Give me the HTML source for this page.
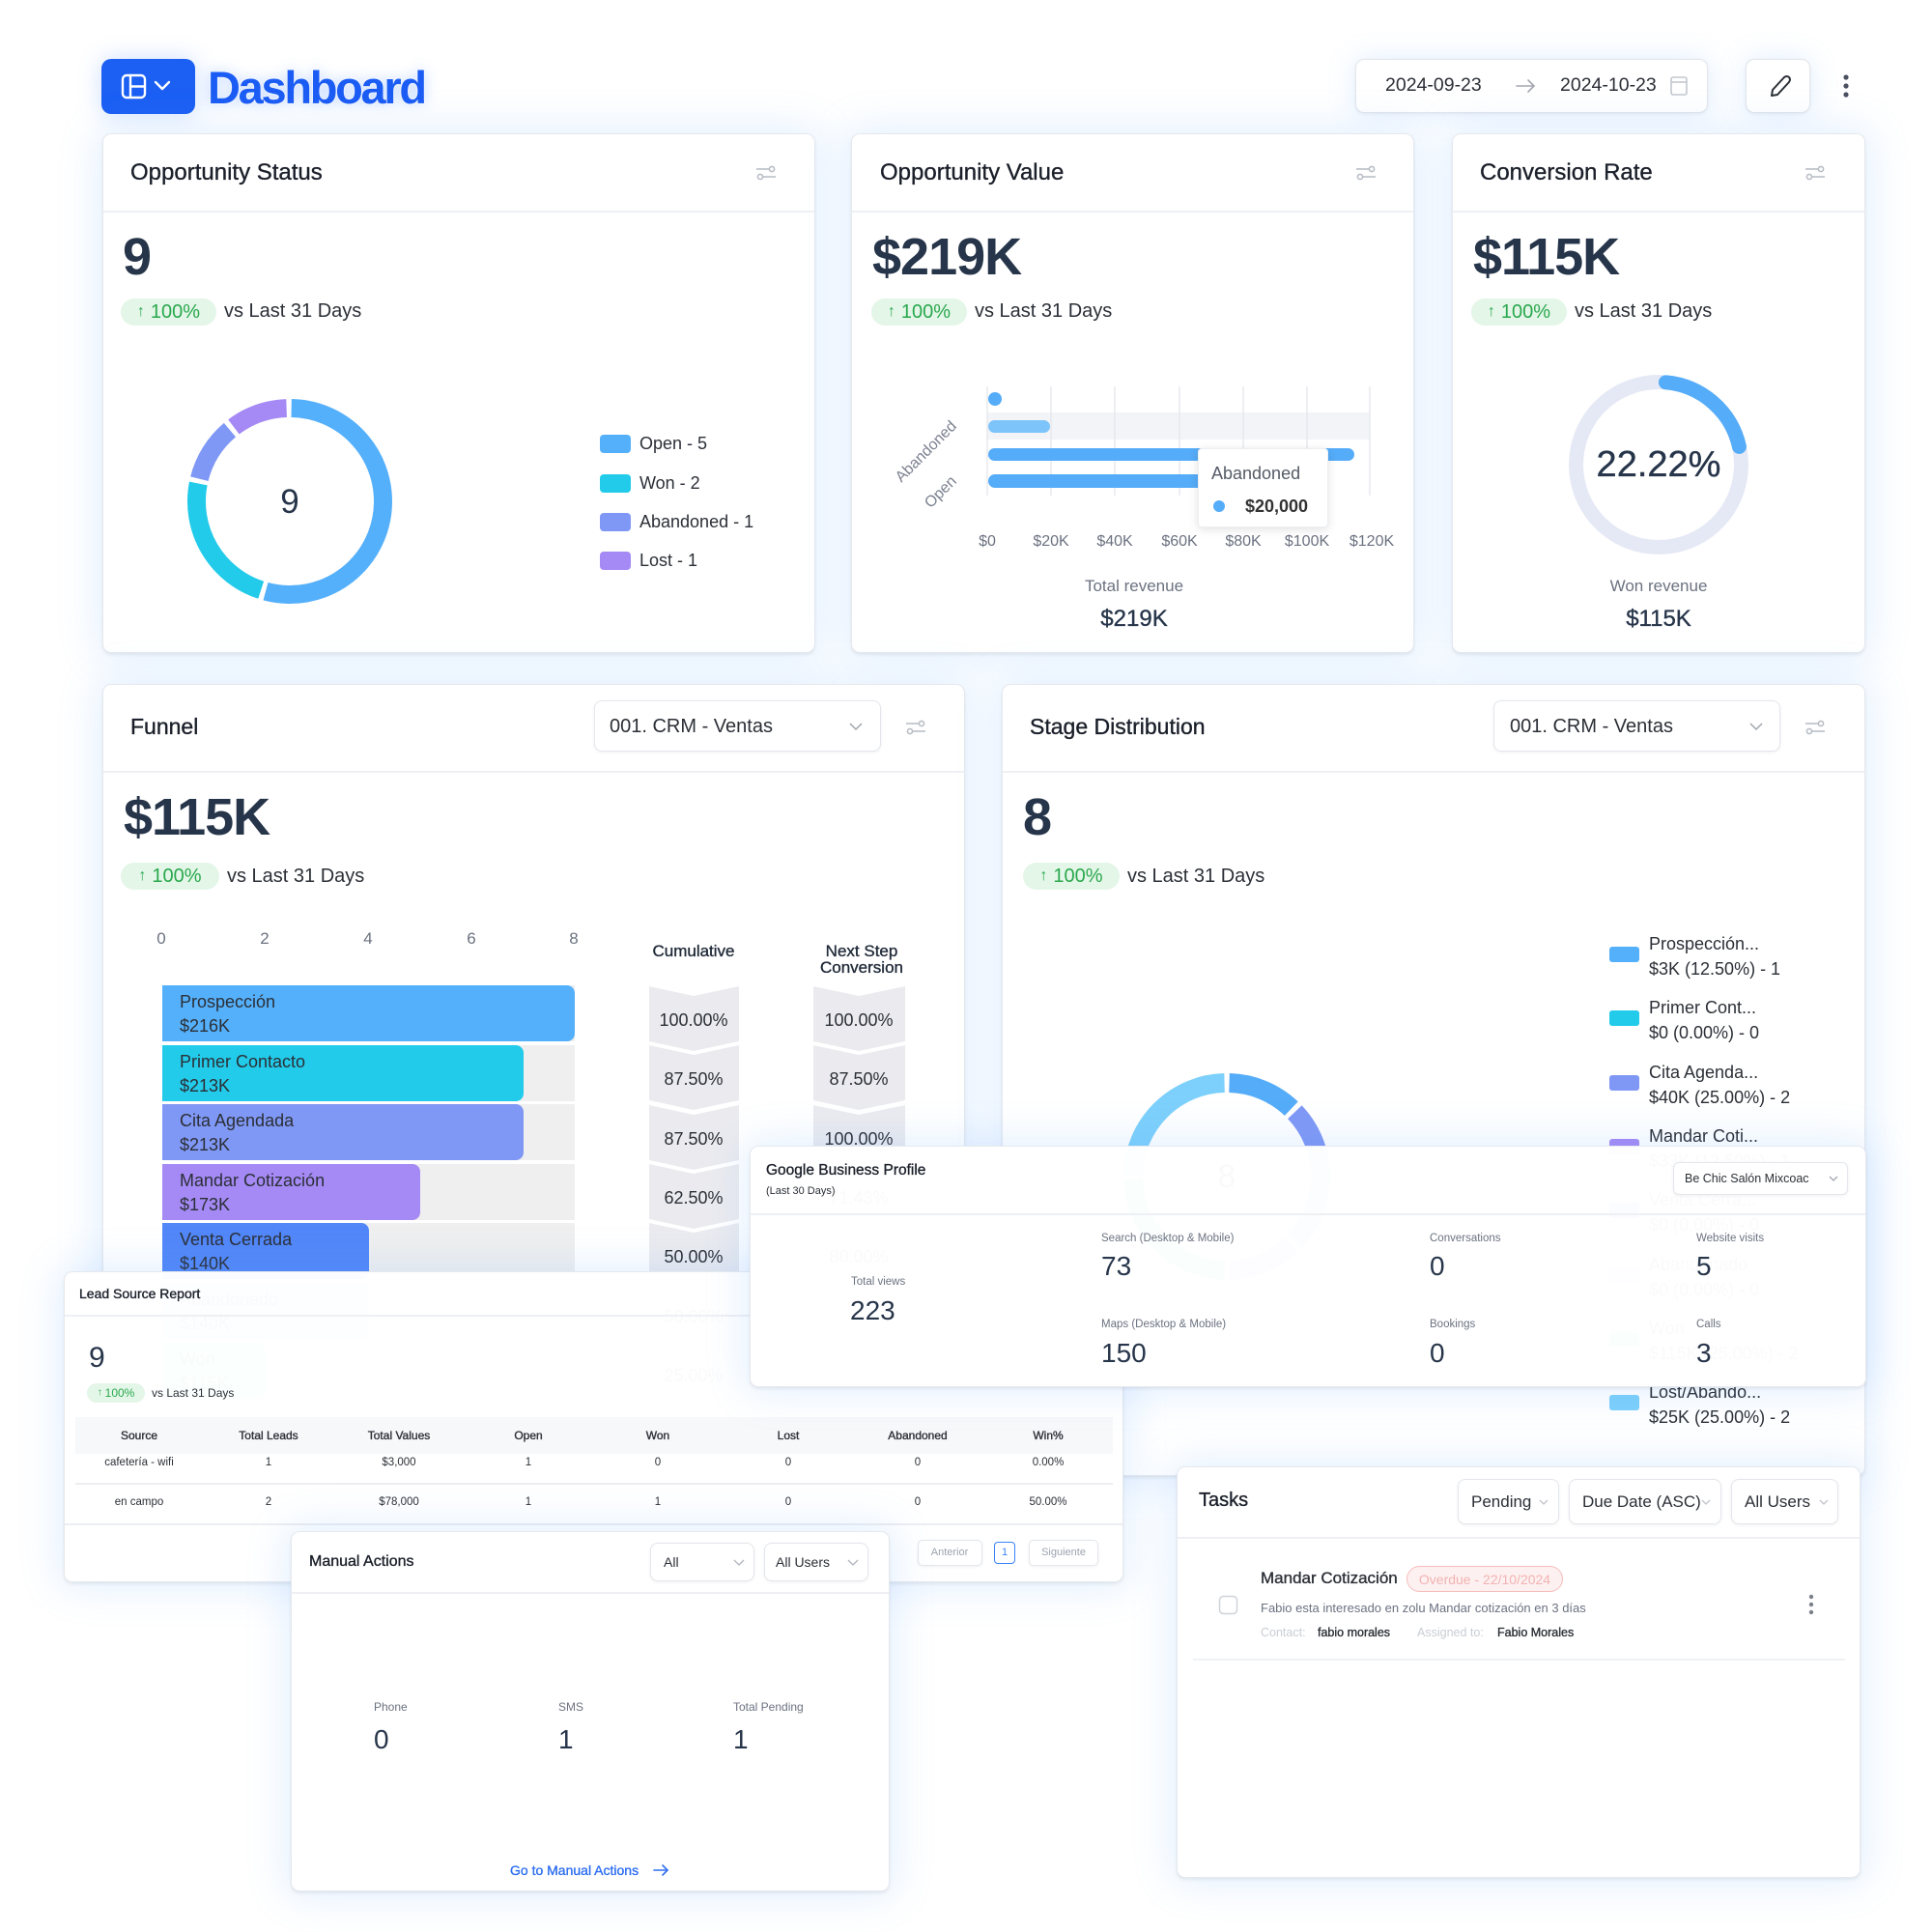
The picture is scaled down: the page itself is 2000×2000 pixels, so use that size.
<!DOCTYPE html>
<html><head><meta charset="utf-8">
<style>
*{margin:0;padding:0;box-sizing:border-box}
html,body{width:2000px;height:2000px;background:#fff;overflow:hidden;font-family:"Liberation Sans",Arial,sans-serif;color:#1f2937}
.L{position:absolute;left:0;top:0;width:2000px;height:2000px}
.card{position:absolute;background:#fff;border:1px solid #e6e9ee;border-radius:9px;box-shadow:0 2px 3px rgba(0,0,0,.07),0 0 42px 6px rgba(90,160,255,.16)}
.tr{background:rgba(255,255,255,.975)}
.t{position:absolute;white-space:nowrap;line-height:1}
.c{transform:translateX(-50%)}
.m{-webkit-text-stroke:.35px currentColor}
.hl{position:absolute;height:2px;background:#eef0f3}
.badge{position:absolute;background:#e3f6e8;color:#2aa84d;border-radius:14px;display:flex;align-items:center;justify-content:center;white-space:nowrap;line-height:1}
.dd{position:absolute;border:1.5px solid #e3e6eb;border-radius:8px;background:#fff;box-shadow:0 1px 3px rgba(0,0,0,.06)}
svg{position:absolute;left:0;top:0;overflow:visible}
.num{color:#27354a;font-weight:bold;letter-spacing:-1px}
.g{color:#6b7280}
.dk{color:#2b2f36}
</style></head><body>

<!-- HEADER -->
<div class="L">
  <div style="position:absolute;left:105px;top:61px;width:97px;height:57px;background:#1b5ff3;border-radius:10px;box-shadow:0 0 24px rgba(60,130,255,.25)"></div>
  <div class="dd" style="left:1403px;top:61px;width:365px;height:56px;border-radius:9px;box-shadow:0 1px 3px rgba(0,0,0,.06),0 0 30px rgba(90,160,255,.18)"></div>
  <div class="dd" style="left:1807px;top:61px;width:67px;height:56px;border-radius:9px;box-shadow:0 1px 3px rgba(0,0,0,.06),0 0 30px rgba(90,160,255,.18)"></div>
  <svg width="2000" height="2000" viewBox="0 0 2000 2000">
    <g stroke="#fff" stroke-width="2.4" fill="none" stroke-linecap="round" stroke-linejoin="round">
      <rect x="127" y="78" width="23" height="23" rx="4"/>
      <line x1="135" y1="78" x2="135" y2="101"/>
      <line x1="135" y1="89.5" x2="150" y2="89.5"/>
      <polyline points="161,85 168,92 175,85"/>
    </g>
    <g stroke="#c3c7ce" stroke-width="1.6" fill="none">
      <rect x="1730" y="80" width="16" height="18" rx="2"/>
      <line x1="1730" y1="85" x2="1746" y2="85"/>
    </g>
    <g stroke="#a3a8b0" stroke-width="1.6" fill="none" stroke-linecap="round">
      <line x1="1570" y1="89" x2="1588" y2="89"/>
      <polyline points="1582,83 1588,89 1582,95"/>
    </g>
    <g stroke="#2b2f36" stroke-width="2" fill="none" stroke-linejoin="round">
      <path d="M1834 99 L1835 93 L1847 80 Q1850 78 1852 80 Q1854 82 1852 85 L1840 98 Z"/>
    </g>
    <g fill="#4b5060">
      <circle cx="1911" cy="80" r="2.6"/><circle cx="1911" cy="89" r="2.6"/><circle cx="1911" cy="98" r="2.6"/>
    </g>
  </svg>
  <div class="t" style="left:215px;top:67px;font-size:47px;font-weight:bold;letter-spacing:-2.3px;color:#1b5cf4;text-shadow:0 0 2px #fff,0 0 14px rgba(60,130,255,.35)">Dashboard</div>
  <div class="t dk" style="left:1434px;top:79px;font-size:19.5px">2024-09-23</div>
  <div class="t dk" style="left:1615px;top:79px;font-size:19.5px">2024-10-23</div>
</div>

<!-- ROW 1 -->
<div class="L">
  <div class="card" style="left:106px;top:138px;width:738px;height:538px"></div>
  <div class="card" style="left:881px;top:138px;width:583px;height:538px"></div>
  <div class="card" style="left:1503px;top:138px;width:428px;height:538px"></div>
  <div class="hl" style="left:107px;top:218px;width:736px"></div>
  <div class="hl" style="left:882px;top:218px;width:581px"></div>
  <div class="hl" style="left:1504px;top:218px;width:426px"></div>
  <svg width="2000" height="2000" viewBox="0 0 2000 2000">
    <g stroke="#b9bec6" stroke-width="1.6" fill="none">
      <g transform="translate(783,171)"><line x1="0" y1="4" x2="13" y2="4"/><circle cx="16" cy="4" r="2.6"/><line x1="7" y1="12" x2="20" y2="12"/><circle cx="4" cy="12" r="2.6"/></g>
      <g transform="translate(1404,171)"><line x1="0" y1="4" x2="13" y2="4"/><circle cx="16" cy="4" r="2.6"/><line x1="7" y1="12" x2="20" y2="12"/><circle cx="4" cy="12" r="2.6"/></g>
      <g transform="translate(1869,171)"><line x1="0" y1="4" x2="13" y2="4"/><circle cx="16" cy="4" r="2.6"/><line x1="7" y1="12" x2="20" y2="12"/><circle cx="4" cy="12" r="2.6"/></g>
    </g>
    <g fill="none" stroke-width="19">
      <circle cx="300" cy="519" r="96.5" stroke="#55b0fb" stroke-dasharray="326.7 700" transform="rotate(-89 300 519)"/>
      <circle cx="300" cy="519" r="96.5" stroke="#22cbea" stroke-dasharray="139.8 700" transform="rotate(108 300 519)"/>
      <circle cx="300" cy="519" r="96.5" stroke="#8098f5" stroke-dasharray="60.6 700" transform="rotate(194 300 519)"/>
      <circle cx="300" cy="519" r="96.5" stroke="#a58af5" stroke-dasharray="58.9 700" transform="rotate(233 300 519)"/>
    </g>
    <rect x="621" y="450" width="32" height="19" rx="4" fill="#55b0fb"/>
    <rect x="621" y="491" width="32" height="19" rx="4" fill="#22cbea"/>
    <rect x="621" y="531" width="32" height="19" rx="4" fill="#8098f5"/>
    <rect x="621" y="571" width="32" height="19" rx="4" fill="#a58af5"/>
    <rect x="1022" y="427" width="396" height="28" fill="#f3f4f8"/>
    <g stroke="#e4e6ec" stroke-width="1.3">
      <line x1="1022" y1="400" x2="1022" y2="513"/><line x1="1088" y1="400" x2="1088" y2="513"/>
      <line x1="1154" y1="400" x2="1154" y2="513"/><line x1="1221" y1="400" x2="1221" y2="513"/>
      <line x1="1287" y1="400" x2="1287" y2="513"/><line x1="1353" y1="400" x2="1353" y2="513"/>
      <line x1="1418" y1="400" x2="1418" y2="513"/>
    </g>
    <circle cx="1030" cy="413" r="7" fill="#55acf8"/>
    <rect x="1023" y="435" width="64" height="13" rx="6.5" fill="#7cc4fa"/>
    <rect x="1023" y="464" width="379" height="13" rx="6.5" fill="#55acf8"/>
    <rect x="1023" y="491" width="250" height="14" rx="7" fill="#55acf8"/>
    <text x="991" y="442" transform="rotate(-45 991 442)" text-anchor="end" font-size="16" fill="#7b8190" font-family="Liberation Sans, Arial, sans-serif">Abandoned</text>
    <text x="991" y="499" transform="rotate(-45 991 499)" text-anchor="end" font-size="16" fill="#7b8190" font-family="Liberation Sans, Arial, sans-serif">Open</text>
    <circle cx="1717" cy="481" r="85.5" fill="none" stroke="#e5e9f5" stroke-width="15"/>
    <circle cx="1717" cy="481" r="85.5" fill="none" stroke="#55acf8" stroke-width="15" stroke-linecap="round" stroke-dasharray="108 700" transform="rotate(-85 1717 481)"/>
  </svg>

  <div class="t m" style="left:135px;top:167px;font-size:24px;color:#1a1f29">Opportunity Status</div>
  <div class="t m" style="left:911px;top:167px;font-size:24px;color:#1a1f29">Opportunity Value</div>
  <div class="t m" style="left:1532px;top:167px;font-size:24px;color:#1a1f29">Conversion Rate</div>

  <div class="t num" style="left:127px;top:239px;font-size:54px">9</div>
  <div class="t num" style="left:903px;top:239px;font-size:54px">$219K</div>
  <div class="t num" style="left:1525px;top:239px;font-size:54px">$115K</div>

  <div class="badge" style="left:125px;top:309px;width:99px;height:28px;font-size:20px"><span style="font-size:16px;margin-right:6px">↑</span>100%</div>
  <div class="badge" style="left:902px;top:309px;width:99px;height:28px;font-size:20px"><span style="font-size:16px;margin-right:6px">↑</span>100%</div>
  <div class="badge" style="left:1523px;top:309px;width:99px;height:28px;font-size:20px"><span style="font-size:16px;margin-right:6px">↑</span>100%</div>
  <div class="t dk" style="left:232px;top:312px;font-size:20px">vs Last 31 Days</div>
  <div class="t dk" style="left:1009px;top:312px;font-size:20px">vs Last 31 Days</div>
  <div class="t dk" style="left:1630px;top:312px;font-size:20px">vs Last 31 Days</div>

  <div class="t c" style="left:300px;top:502px;font-size:35px;color:#27354a">9</div>
  <div class="t dk" style="left:662px;top:450px;font-size:18px">Open - 5</div>
  <div class="t dk" style="left:662px;top:491px;font-size:18px">Won - 2</div>
  <div class="t dk" style="left:662px;top:531px;font-size:18px">Abandoned - 1</div>
  <div class="t dk" style="left:662px;top:571px;font-size:18px">Lost - 1</div>

  <div class="t c g" style="left:1022px;top:553px;font-size:16px">$0</div>
  <div class="t c g" style="left:1088px;top:553px;font-size:16px">$20K</div>
  <div class="t c g" style="left:1154px;top:553px;font-size:16px">$40K</div>
  <div class="t c g" style="left:1221px;top:553px;font-size:16px">$60K</div>
  <div class="t c g" style="left:1287px;top:553px;font-size:16px">$80K</div>
  <div class="t c g" style="left:1353px;top:553px;font-size:16px">$100K</div>
  <div class="t c g" style="left:1420px;top:553px;font-size:16px">$120K</div>

  <div style="position:absolute;left:1240px;top:464px;width:135px;height:82px;background:#fff;border:1px solid #eceef2;border-radius:4px;box-shadow:0 2px 10px rgba(0,0,0,.12)"></div>
  <div class="t" style="left:1254px;top:481px;font-size:18px;color:#555b66">Abandoned</div>
  <div style="position:absolute;left:1256px;top:518px;width:12px;height:12px;border-radius:50%;background:#55acf8"></div>
  <div class="t" style="left:1289px;top:515px;font-size:18px;font-weight:bold;color:#333">$20,000</div>

  <div class="t c g" style="left:1174px;top:598px;font-size:17px">Total revenue</div>
  <div class="t c m" style="left:1174px;top:629px;font-size:24px;color:#27354a">$219K</div>
  <div class="t c m" style="left:1717px;top:462px;font-size:38px;color:#27354a">22.22%</div>
  <div class="t c g" style="left:1717px;top:598px;font-size:17px">Won revenue</div>
  <div class="t c m" style="left:1717px;top:629px;font-size:24px;color:#27354a">$115K</div>
</div>

<!-- ROW 2: FUNNEL & STAGE -->
<div class="L">
  <div class="card" style="left:106px;top:708px;width:893px;height:790px"></div>
  <div class="card" style="left:1037px;top:708px;width:894px;height:820px"></div>
  <div class="hl" style="left:107px;top:798px;width:891px"></div>
  <div class="hl" style="left:1038px;top:798px;width:892px"></div>
  <div class="dd" style="left:615px;top:725px;width:297px;height:53px"></div>
  <div class="dd" style="left:1546px;top:725px;width:297px;height:53px"></div>
  <svg width="2000" height="2000" viewBox="0 0 2000 2000">
    <g stroke="#a0a6ae" stroke-width="1.5" fill="none">
      <polyline points="880,749 886,755 892,749"/>
      <polyline points="1812,749 1818,755 1824,749"/>
    </g>
    <g stroke="#b9bec6" stroke-width="1.6" fill="none">
      <g transform="translate(938,745)"><line x1="0" y1="4" x2="13" y2="4"/><circle cx="16" cy="4" r="2.6"/><line x1="7" y1="12" x2="20" y2="12"/><circle cx="4" cy="12" r="2.6"/></g>
      <g transform="translate(1869,745)"><line x1="0" y1="4" x2="13" y2="4"/><circle cx="16" cy="4" r="2.6"/><line x1="7" y1="12" x2="20" y2="12"/><circle cx="4" cy="12" r="2.6"/></g>
    </g>
    <g fill="#efefef">
      <rect x="168" y="1020" width="427" height="58"/>
      <rect x="168" y="1082" width="427" height="58"/>
      <rect x="168" y="1143" width="427" height="58"/>
      <rect x="168" y="1205" width="427" height="58"/>
      <rect x="168" y="1266" width="427" height="58"/>
      <rect x="168" y="1328" width="427" height="58"/>
      <rect x="168" y="1390" width="427" height="58"/>
    </g>
    <rect x="168" y="1020" width="427" height="58" rx="8" fill="#55b0fb"/><rect x="168" y="1020" width="20" height="58" fill="#55b0fb"/>
    <rect x="168" y="1082" width="374" height="58" rx="8" fill="#22cbea"/><rect x="168" y="1082" width="20" height="58" fill="#22cbea"/>
    <rect x="168" y="1143" width="374" height="58" rx="8" fill="#8098f5"/><rect x="168" y="1143" width="20" height="58" fill="#8098f5"/>
    <rect x="168" y="1205" width="267" height="58" rx="8" fill="#a58af5"/><rect x="168" y="1205" width="20" height="58" fill="#a58af5"/>
    <rect x="168" y="1266" width="214" height="58" rx="8" fill="#5287f8"/><rect x="168" y="1266" width="20" height="58" fill="#5287f8"/>
    <rect x="168" y="1328" width="214" height="58" rx="8" fill="#93c5fd"/><rect x="168" y="1328" width="20" height="58" fill="#93c5fd"/>
    <rect x="168" y="1390" width="107" height="58" rx="8" fill="#5eead4"/><rect x="168" y="1390" width="20" height="58" fill="#5eead4"/>
    <g fill="#ebebef">
      <polygon points="672,1021 718,1031 765,1021 765,1078 718,1088 672,1078"/>
      <polygon points="672,1082 718,1092 765,1082 765,1139 718,1149 672,1139"/>
      <polygon points="672,1144 718,1154 765,1144 765,1201 718,1211 672,1201"/>
      <polygon points="672,1205 718,1215 765,1205 765,1262 718,1272 672,1262"/>
      <polygon points="672,1266 718,1276 765,1266 765,1323 718,1333 672,1323"/>
      <polygon points="672,1328 718,1338 765,1328 765,1385 718,1395 672,1385"/>
      <polygon points="672,1389 718,1399 765,1389 765,1446 718,1456 672,1446"/>
      <polygon points="842,1021 889,1031 937,1021 937,1078 889,1088 842,1078"/>
      <polygon points="842,1082 889,1092 937,1082 937,1139 889,1149 842,1139"/>
      <polygon points="842,1144 889,1154 937,1144 937,1201 889,1211 842,1201"/>
      <polygon points="842,1205 889,1215 937,1205 937,1262 889,1272 842,1262"/>
      <polygon points="842,1266 889,1276 937,1266 937,1323 889,1333 842,1323"/>
      <polygon points="842,1328 889,1338 937,1328 937,1385 889,1395 842,1385"/>
    </g>
    <g fill="none" stroke-width="20">
      <circle cx="1270" cy="1218" r="97" stroke="#55acf8" stroke-dasharray="71.1 700" transform="rotate(-88.5 1270 1218)"/>
      <circle cx="1270" cy="1218" r="97" stroke="#8098f5" stroke-dasharray="147.3 700" transform="rotate(-43.5 1270 1218)"/>
      <circle cx="1270" cy="1218" r="97" stroke="#a58af5" stroke-dasharray="71.1 700" transform="rotate(46.5 1270 1218)"/>
      <circle cx="1270" cy="1218" r="97" stroke="#34d399" stroke-dasharray="147.3 700" transform="rotate(91.5 1270 1218)"/>
      <circle cx="1270" cy="1218" r="97" stroke="#7dd0fb" stroke-dasharray="147.3 700" transform="rotate(181.5 1270 1218)"/>
    </g>
    <rect x="1666" y="980" width="31" height="16" rx="3" fill="#55b0fb"/>
    <rect x="1666" y="1046" width="31" height="16" rx="3" fill="#22cbea"/>
    <rect x="1666" y="1113" width="31" height="16" rx="3" fill="#8098f5"/>
    <rect x="1666" y="1179" width="31" height="16" rx="3" fill="#a58af5"/>
    <rect x="1666" y="1245" width="31" height="16" rx="3" fill="#5287f8"/>
    <rect x="1666" y="1312" width="31" height="16" rx="3" fill="#c4b5fd"/>
    <rect x="1666" y="1378" width="31" height="16" rx="3" fill="#34d399"/>
    <rect x="1666" y="1444" width="31" height="16" rx="3" fill="#7dd0fb"/>
  </svg>
  <div class="t m" style="left:135px;top:741px;font-size:23px;color:#1a1f29">Funnel</div>
  <div class="t m" style="left:1066px;top:741px;font-size:23px;color:#1a1f29">Stage Distribution</div>
  <div class="t dk" style="left:631px;top:742px;font-size:20px">001. CRM - Ventas</div>
  <div class="t dk" style="left:1563px;top:742px;font-size:20px">001. CRM - Ventas</div>
  <div class="t num" style="left:128px;top:819px;font-size:54px">$115K</div>
  <div class="t num" style="left:1059px;top:819px;font-size:54px">8</div>
  <div class="badge" style="left:125px;top:893px;width:102px;height:28px;font-size:20px"><span style="font-size:16px;margin-right:6px">↑</span>100%</div>
  <div class="badge" style="left:1059px;top:893px;width:100px;height:28px;font-size:20px"><span style="font-size:16px;margin-right:6px">↑</span>100%</div>
  <div class="t dk" style="left:235px;top:897px;font-size:20px">vs Last 31 Days</div>
  <div class="t dk" style="left:1167px;top:897px;font-size:20px">vs Last 31 Days</div>

  <div class="t c g" style="left:167px;top:963px;font-size:17px">0</div>
  <div class="t c g" style="left:274px;top:963px;font-size:17px">2</div>
  <div class="t c g" style="left:381px;top:963px;font-size:17px">4</div>
  <div class="t c g" style="left:488px;top:963px;font-size:17px">6</div>
  <div class="t c g" style="left:594px;top:963px;font-size:17px">8</div>
  <div class="t c m" style="left:718px;top:976px;font-size:17px;color:#1f2937">Cumulative</div>
  <div class="t c m" style="left:892px;top:976px;font-size:17px;color:#1f2937">Next Step</div>
  <div class="t c m" style="left:892px;top:993px;font-size:17px;color:#1f2937">Conversion</div>

  <div class="t dk" style="left:186px;top:1028px;font-size:18px">Prospección</div>
  <div class="t dk" style="left:186px;top:1053px;font-size:18px">$216K</div>
  <div class="t dk" style="left:186px;top:1090px;font-size:18px">Primer Contacto</div>
  <div class="t dk" style="left:186px;top:1115px;font-size:18px">$213K</div>
  <div class="t dk" style="left:186px;top:1151px;font-size:18px">Cita Agendada</div>
  <div class="t dk" style="left:186px;top:1176px;font-size:18px">$213K</div>
  <div class="t dk" style="left:186px;top:1213px;font-size:18px">Mandar Cotización</div>
  <div class="t dk" style="left:186px;top:1238px;font-size:18px">$173K</div>
  <div class="t dk" style="left:186px;top:1274px;font-size:18px">Venta Cerrada</div>
  <div class="t dk" style="left:186px;top:1299px;font-size:18px">$140K</div>
  <div class="t dk" style="left:186px;top:1336px;font-size:18px">Abandonado</div>
  <div class="t dk" style="left:186px;top:1361px;font-size:18px">$140K</div>
  <div class="t dk" style="left:186px;top:1398px;font-size:18px">Won</div>
  <div class="t dk" style="left:186px;top:1423px;font-size:18px">$115K</div>

  <div class="t c dk" style="left:718px;top:1047px;font-size:18px">100.00%</div>
  <div class="t c dk" style="left:718px;top:1108px;font-size:18px">87.50%</div>
  <div class="t c dk" style="left:718px;top:1170px;font-size:18px">87.50%</div>
  <div class="t c dk" style="left:718px;top:1231px;font-size:18px">62.50%</div>
  <div class="t c dk" style="left:718px;top:1292px;font-size:18px">50.00%</div>
  <div class="t c dk" style="left:718px;top:1354px;font-size:18px">50.00%</div>
  <div class="t c dk" style="left:718px;top:1415px;font-size:18px">25.00%</div>
  <div class="t c dk" style="left:889px;top:1047px;font-size:18px">100.00%</div>
  <div class="t c dk" style="left:889px;top:1108px;font-size:18px">87.50%</div>
  <div class="t c dk" style="left:889px;top:1170px;font-size:18px">100.00%</div>
  <div class="t c dk" style="left:889px;top:1231px;font-size:18px">71.43%</div>
  <div class="t c dk" style="left:889px;top:1292px;font-size:18px">80.00%</div>
  <div class="t c dk" style="left:889px;top:1354px;font-size:18px">100.00%</div>

  <div class="t c" style="left:1270px;top:1201px;font-size:34px;color:#27354a">8</div>

  <div class="t dk" style="left:1707px;top:968px;font-size:18px">Prospección...</div>
  <div class="t dk" style="left:1707px;top:994px;font-size:18px">$3K (12.50%) - 1</div>
  <div class="t dk" style="left:1707px;top:1034px;font-size:18px">Primer Cont...</div>
  <div class="t dk" style="left:1707px;top:1060px;font-size:18px">$0 (0.00%) - 0</div>
  <div class="t dk" style="left:1707px;top:1101px;font-size:18px">Cita Agenda...</div>
  <div class="t dk" style="left:1707px;top:1127px;font-size:18px">$40K (25.00%) - 2</div>
  <div class="t dk" style="left:1707px;top:1167px;font-size:18px">Mandar Coti...</div>
  <div class="t dk" style="left:1707px;top:1193px;font-size:18px">$33K (12.50%) - 1</div>
  <div class="t dk" style="left:1707px;top:1233px;font-size:18px">Venta Cerra...</div>
  <div class="t dk" style="left:1707px;top:1259px;font-size:18px">$0 (0.00%) - 0</div>
  <div class="t dk" style="left:1707px;top:1300px;font-size:18px">Abandonado</div>
  <div class="t dk" style="left:1707px;top:1326px;font-size:18px">$0 (0.00%) - 0</div>
  <div class="t dk" style="left:1707px;top:1366px;font-size:18px">Won</div>
  <div class="t dk" style="left:1707px;top:1392px;font-size:18px">$115K (25.00%) - 2</div>
  <div class="t dk" style="left:1707px;top:1432px;font-size:18px">Lost/Abando...</div>
  <div class="t dk" style="left:1707px;top:1458px;font-size:18px">$25K (25.00%) - 2</div>
</div>

<!-- LEAD SOURCE -->
<div class="L">
  <div class="card tr" style="left:66px;top:1316px;width:1097px;height:322px"></div>
  <div class="hl" style="left:67px;top:1361px;width:1095px"></div>
  <div style="position:absolute;left:78px;top:1467px;width:1074px;height:38px;background:#f7f8fa"></div>
  <div style="position:absolute;left:78px;top:1535px;width:1074px;height:1.5px;background:#eceef1"></div>
  <div style="position:absolute;left:67px;top:1577px;width:1095px;height:1.5px;background:#eceef1"></div>
  <div class="t m" style="left:82px;top:1332px;font-size:14px;color:#1a1f29">Lead Source Report</div>
  <div class="t" style="left:92px;top:1391px;font-size:30px;color:#27354a">9</div>
  <div class="badge" style="left:90px;top:1432px;width:60px;height:20px;font-size:12px;border-radius:10px"><span style="font-size:10px;margin-right:3px">↑</span>100%</div>
  <div class="t dk" style="left:157px;top:1436px;font-size:12px">vs Last 31 Days</div>

  <div class="t c m dk" style="left:144px;top:1480px;font-size:12px">Source</div>
  <div class="t c m dk" style="left:278px;top:1480px;font-size:12px">Total Leads</div>
  <div class="t c m dk" style="left:413px;top:1480px;font-size:12px">Total Values</div>
  <div class="t c m dk" style="left:547px;top:1480px;font-size:12px">Open</div>
  <div class="t c m dk" style="left:681px;top:1480px;font-size:12px">Won</div>
  <div class="t c m dk" style="left:816px;top:1480px;font-size:12px">Lost</div>
  <div class="t c m dk" style="left:950px;top:1480px;font-size:12px">Abandoned</div>
  <div class="t c m dk" style="left:1085px;top:1480px;font-size:12px">Win%</div>

  <div class="t c dk" style="left:144px;top:1509px;font-size:11.5px">cafetería - wifi</div>
  <div class="t c dk" style="left:278px;top:1509px;font-size:11.5px">1</div>
  <div class="t c dk" style="left:413px;top:1509px;font-size:11.5px">$3,000</div>
  <div class="t c dk" style="left:547px;top:1509px;font-size:11.5px">1</div>
  <div class="t c dk" style="left:681px;top:1509px;font-size:11.5px">0</div>
  <div class="t c dk" style="left:816px;top:1509px;font-size:11.5px">0</div>
  <div class="t c dk" style="left:950px;top:1509px;font-size:11.5px">0</div>
  <div class="t c dk" style="left:1085px;top:1509px;font-size:11.5px">0.00%</div>

  <div class="t c dk" style="left:144px;top:1550px;font-size:11.5px">en campo</div>
  <div class="t c dk" style="left:278px;top:1550px;font-size:11.5px">2</div>
  <div class="t c dk" style="left:413px;top:1550px;font-size:11.5px">$78,000</div>
  <div class="t c dk" style="left:547px;top:1550px;font-size:11.5px">1</div>
  <div class="t c dk" style="left:681px;top:1550px;font-size:11.5px">1</div>
  <div class="t c dk" style="left:816px;top:1550px;font-size:11.5px">0</div>
  <div class="t c dk" style="left:950px;top:1550px;font-size:11.5px">0</div>
  <div class="t c dk" style="left:1085px;top:1550px;font-size:11.5px">50.00%</div>

  <div class="dd" style="left:950px;top:1594px;width:67px;height:27px;border-radius:5px"></div>
  <div class="t c" style="left:983px;top:1602px;font-size:11px;color:#9ca3af">Anterior</div>
  <div style="position:absolute;left:1029px;top:1596px;width:22px;height:23px;border:1.5px solid #3b82f6;border-radius:4px"></div>
  <div class="t c" style="left:1040px;top:1602px;font-size:11px;color:#3b82f6">1</div>
  <div class="dd" style="left:1065px;top:1594px;width:72px;height:27px;border-radius:5px"></div>
  <div class="t c" style="left:1101px;top:1602px;font-size:11px;color:#9ca3af">Siguiente</div>
</div>

<!-- GOOGLE BUSINESS PROFILE -->
<div class="L">
  <div class="card tr" style="left:776px;top:1186px;width:1156px;height:250px"></div>
  <div class="hl" style="left:777px;top:1256px;width:1154px"></div>
  <div class="dd" style="left:1732px;top:1203px;width:181px;height:34px;border-radius:6px"></div>
  <svg width="2000" height="2000" viewBox="0 0 2000 2000">
    <polyline points="1894,1218 1898,1222 1902,1218" stroke="#a0a6ae" stroke-width="1.3" fill="none"/>
  </svg>
  <div class="t m" style="left:793px;top:1204px;font-size:15.5px;color:#1a1f29">Google Business Profile</div>
  <div class="t dk" style="left:793px;top:1228px;font-size:11px">(Last 30 Days)</div>
  <div class="t dk" style="left:1744px;top:1214px;font-size:12.5px">Be Chic Salón Mixcoac</div>

  <div class="t g" style="left:881px;top:1322px;font-size:11.5px">Total views</div>
  <div class="t" style="left:880px;top:1343px;font-size:28px;color:#27354a">223</div>
  <div class="t g" style="left:1140px;top:1277px;font-size:11.5px">Search (Desktop &amp; Mobile)</div>
  <div class="t" style="left:1140px;top:1297px;font-size:28px;color:#27354a">73</div>
  <div class="t g" style="left:1140px;top:1366px;font-size:11.5px">Maps (Desktop &amp; Mobile)</div>
  <div class="t" style="left:1140px;top:1387px;font-size:28px;color:#27354a">150</div>
  <div class="t g" style="left:1480px;top:1277px;font-size:11.5px">Conversations</div>
  <div class="t" style="left:1480px;top:1297px;font-size:28px;color:#27354a">0</div>
  <div class="t g" style="left:1480px;top:1366px;font-size:11.5px">Bookings</div>
  <div class="t" style="left:1480px;top:1387px;font-size:28px;color:#27354a">0</div>
  <div class="t g" style="left:1756px;top:1277px;font-size:11.5px">Website visits</div>
  <div class="t" style="left:1756px;top:1297px;font-size:28px;color:#27354a">5</div>
  <div class="t g" style="left:1756px;top:1366px;font-size:11.5px">Calls</div>
  <div class="t" style="left:1756px;top:1387px;font-size:28px;color:#27354a">3</div>
</div>

<!-- MANUAL ACTIONS -->
<div class="L">
  <div class="card" style="left:301px;top:1585px;width:620px;height:373px"></div>
  <div class="hl" style="left:302px;top:1648px;width:618px"></div>
  <div class="dd" style="left:673px;top:1597px;width:108px;height:40px"></div>
  <div class="dd" style="left:791px;top:1597px;width:108px;height:40px"></div>
  <svg width="2000" height="2000" viewBox="0 0 2000 2000">
    <g stroke="#b0b5bd" stroke-width="1.3" fill="none">
      <polyline points="760,1615 765,1620 770,1615"/>
      <polyline points="878,1615 883,1620 888,1615"/>
    </g>
    <g stroke="#2f6ff0" stroke-width="1.6" fill="none" stroke-linecap="round">
      <line x1="677" y1="1936" x2="691" y2="1936"/>
      <polyline points="686,1931 691,1936 686,1941"/>
    </g>
  </svg>
  <div class="t m" style="left:320px;top:1609px;font-size:16px;color:#1a1f29">Manual Actions</div>
  <div class="t dk" style="left:687px;top:1610px;font-size:14px">All</div>
  <div class="t dk" style="left:803px;top:1610px;font-size:14px">All Users</div>
  <div class="t g" style="left:387px;top:1761px;font-size:12px">Phone</div>
  <div class="t" style="left:387px;top:1787px;font-size:28px;color:#27354a">0</div>
  <div class="t g" style="left:578px;top:1761px;font-size:12px">SMS</div>
  <div class="t" style="left:578px;top:1787px;font-size:28px;color:#27354a">1</div>
  <div class="t g" style="left:759px;top:1761px;font-size:12px">Total Pending</div>
  <div class="t" style="left:759px;top:1787px;font-size:28px;color:#27354a">1</div>
  <div class="t m" style="left:528px;top:1929px;font-size:14px;color:#2f6ff0">Go to Manual Actions</div>
</div>

<!-- TASKS -->
<div class="L">
  <div class="card" style="left:1218px;top:1518px;width:708px;height:426px"></div>
  <div class="hl" style="left:1219px;top:1591px;width:706px"></div>
  <div class="dd" style="left:1509px;top:1531px;width:105px;height:47px"></div>
  <div class="dd" style="left:1624px;top:1531px;width:158px;height:47px"></div>
  <div class="dd" style="left:1792px;top:1531px;width:111px;height:47px"></div>
  <svg width="2000" height="2000" viewBox="0 0 2000 2000">
    <g stroke="#c0c4cb" stroke-width="1.3" fill="none">
      <polyline points="1594,1553 1598,1557 1602,1553"/>
      <polyline points="1762,1553 1766,1557 1770,1553"/>
      <polyline points="1884,1553 1888,1557 1892,1553"/>
    </g>
    <rect x="1262.5" y="1652.5" width="18" height="18" rx="4" fill="#fff" stroke="#cfd3d9" stroke-width="1.5"/>
    <g fill="#7a808c">
      <circle cx="1875" cy="1653" r="2.2"/><circle cx="1875" cy="1661" r="2.2"/><circle cx="1875" cy="1669" r="2.2"/>
    </g>
    <line x1="1235" y1="1718" x2="1910" y2="1718" stroke="#eceef1" stroke-width="1.5"/>
  </svg>
  <div class="t m" style="left:1241px;top:1543px;font-size:20px;color:#1a1f29">Tasks</div>
  <div class="t dk" style="left:1523px;top:1546px;font-size:17px">Pending</div>
  <div class="t dk" style="left:1638px;top:1546px;font-size:17px">Due Date (ASC)</div>
  <div class="t dk" style="left:1806px;top:1546px;font-size:17px">All Users</div>
  <div class="t m dk" style="left:1305px;top:1625px;font-size:17px">Mandar Cotización</div>
  <div style="position:absolute;left:1456px;top:1621px;width:162px;height:27px;border:1.5px solid #f6bcbc;background:#fdf0f0;border-radius:14px"></div>
  <div class="t c" style="left:1537px;top:1628px;font-size:14px;color:#f2b3b3">Overdue - 22/10/2024</div>
  <div class="t g" style="left:1305px;top:1658px;font-size:13px">Fabio esta interesado en zolu Mandar cotización en 3 días</div>
  <div class="t" style="left:1305px;top:1684px;font-size:12.5px;color:#c9cdd3">Contact:</div>
  <div class="t m dk" style="left:1364px;top:1684px;font-size:12.5px">fabio morales</div>
  <div class="t" style="left:1467px;top:1684px;font-size:12.5px;color:#c9cdd3">Assigned to:</div>
  <div class="t m dk" style="left:1550px;top:1684px;font-size:12.5px">Fabio Morales</div>
</div>
</body></html>
